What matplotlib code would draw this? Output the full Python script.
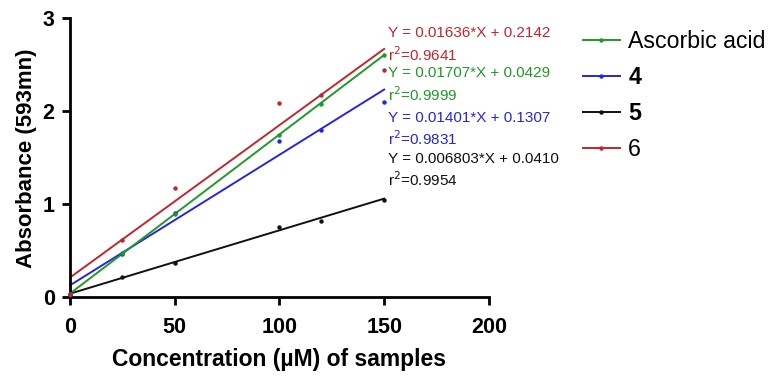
import numpy as np
import matplotlib
matplotlib.use("Agg")
import matplotlib.pyplot as plt
from matplotlib.lines import Line2D

plt.rcParams['font.family'] = ['Liberation Sans', 'DejaVu Sans']

conc = [0, 25, 50, 100, 120, 150]
series_names = ["Ascorbic acid", "4", "5", "6"]
series_values = {
    "Ascorbic acid": [0.04, 0.48, 0.90, 1.74, 2.08, 2.60],
    "4": [0.03, 0.47, 0.91, 1.68, 1.80, 2.10],
    "5": [0.04, 0.22, 0.37, 0.76, 0.82, 1.05],
    "6": [0.04, 0.62, 1.18, 2.09, 2.17, 2.44],
}
slopes = {"Ascorbic acid": 0.01707, "4": 0.01401, "5": 0.006803, "6": 0.01636}
intercepts = {"Ascorbic acid": 0.0429, "4": 0.1307, "5": 0.0410, "6": 0.2142}
r2 = {"Ascorbic acid": "0.9999", "4": "0.9831", "5": "0.9954", "6": "0.9641"}
eq_text = {"Ascorbic acid": "Y = 0.01707*X + 0.0429", "4": "Y = 0.01401*X + 0.1307",
           "5": "Y = 0.006803*X + 0.0410", "6": "Y = 0.01636*X + 0.2142"}
colors = {"Ascorbic acid": "#1f9a28", "4": "#2626e0", "5": "#111111", "6": "#c0272d"}
label_bold = {"Ascorbic acid": False, "4": True, "5": True, "6": False}

fig = plt.figure(figsize=(7.72, 3.76), dpi=100)
ax = fig.add_axes([0.0907, 0.2088, 0.5425, 0.7432])

draw_order = ["5", "4", "Ascorbic acid", "6"]
for name in draw_order:
    c = colors[name]
    ax.plot(conc, series_values[name], 'o', color=c, markersize=2.2, clip_on=False, zorder=3)
    xf = np.array([conc[0], conc[-1]])
    ax.plot(xf, slopes[name] * xf + intercepts[name], '-', color=c, lw=1.4, clip_on=False, zorder=2)

# equations text
eq_order = ["6", "Ascorbic acid", "4", "5"]
y_eq = [2.84, 2.41, 1.93, 1.49]
for name, ye in zip(eq_order, y_eq):
    c = colors[name]
    ax.text(152, ye, eq_text[name], color=c, fontsize=11, va='center', ha='left', clip_on=False)
    ax.text(152, ye - 0.23, "r$^{2}$=" + r2[name], color=c, fontsize=11, va='center', ha='left', clip_on=False)

ax.set_xlim(0, 200)
ax.set_ylim(0, 3)
ax.set_xticks([0, 50, 100, 150, 200])
ax.set_yticks([0, 1, 2, 3])
for s in ['top', 'right']:
    ax.spines[s].set_visible(False)
for s in ['left', 'bottom']:
    ax.spines[s].set_linewidth(2)
ax.tick_params(width=2, length=6, labelsize=15.5, pad=5)
ax.tick_params(axis='x', pad=8)
for lab in ax.get_xticklabels() + ax.get_yticklabels():
    lab.set_fontweight('bold')
ax.set_xlabel("Concentration (µM) of samples", fontsize=16.5, fontweight='bold', labelpad=7)
ax.set_ylabel("Absorbance (593mn)", fontsize=16, fontweight='bold', labelpad=4)

handles = [Line2D([0], [0], color=colors[n], lw=1.4, marker='o', markersize=2.2) for n in series_names]
leg = fig.legend(handles, series_names, loc='upper left', bbox_to_anchor=(0.755, 0.92),
                 frameon=False, fontsize=16.7, handlelength=1.6, labelspacing=0.56,
                 handletextpad=0.36, borderpad=0, borderaxespad=0)
for t, n in zip(leg.get_texts(), series_names):
    if label_bold[n]:
        t.set_fontweight('bold')

fig.savefig("out.png", dpi=100)
